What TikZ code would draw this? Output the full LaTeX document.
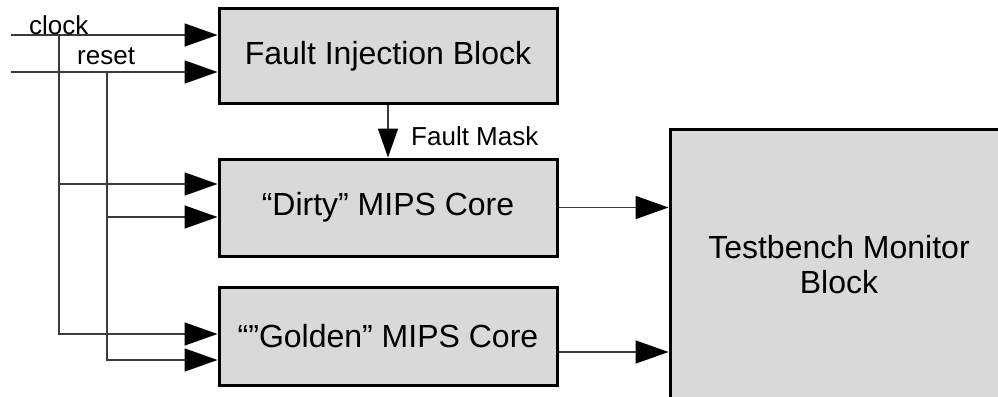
\documentclass[tikz,border=0pt]{standalone}
\usepackage{fontspec}
\setmainfont{Liberation Sans}
\usetikzlibrary{arrows.meta,calc}
\definecolor{boxgray}{HTML}{D9D9D9}
\definecolor{wiregray}{HTML}{3A3A3A}
\tikzset{
  blk/.style={draw=black, line width=3pt, fill=boxgray, rectangle, inner sep=0pt,
    font=\fontsize{32}{35}\selectfont, align=center},
  wire/.style={draw=wiregray, line width=1.6pt},
  sig/.style={wire, -{Triangle[length=33pt,width=23pt,black]}},
  sigv/.style={wire, -{Triangle[length=29pt,width=20pt,black]}},
  lbl/.style={inner sep=0pt, anchor=base west, font=\fontsize{26}{28}\selectfont}
}
\begin{document}
\begin{tikzpicture}[x=1pt,y=-1pt]
\useasboundingbox (0,0) rectangle (998,396);
\clip (0,0) rectangle (998,396);
% blocks
\node[blk, minimum width=338pt, minimum height=94pt] (fib) at (388,56) {Fault Injection Block};
\node[blk, minimum width=338pt, minimum height=97pt] (dirty) at (388,207.5) {“Dirty” MIPS Core};
\node[blk, minimum width=338pt, minimum height=98pt] (golden) at (388,336) {“”Golden” MIPS Core};
\node[blk, minimum width=338pt, minimum height=272pt] (tb) at (839,265) {Testbench Monitor\\Block};
% coordinates
\coordinate (clkin) at (11,35);
\coordinate (rstin) at (11,72);
\coordinate (clkj) at (59,35);
\coordinate (rstj) at (107,72);
\coordinate (fibclk) at ($(fib.west)+(0,-21)$);
\coordinate (fibrst) at ($(fib.west)+(0,16)$);
\coordinate (dclk) at ($(dirty.west)+(0,-23.5)$);
\coordinate (drst) at ($(dirty.west)+(0,9.5)$);
\coordinate (gclk) at ($(golden.west)+(0,-2)$);
\coordinate (grst) at ($(golden.west)+(0,24)$);
\coordinate (gout) at ($(golden.east)+(0,16)$);
% inputs
\draw[sig] (clkin) -- (fibclk);
\draw[sig] (rstin) -- (fibrst);
\draw[sig] (clkj) |- (dclk);
\draw[sig] (clkj) |- (gclk);
\draw[sig] (rstj) |- (drst);
\draw[sig] (rstj) |- (grst);
% fault mask
\draw[sigv] (fib.south) -- (dirty.north);
% outputs
\draw[sig] (dirty.east) -- (dirty.east -| tb.west);
\draw[sig] (gout) -- (gout -| tb.west);
% labels
\node[lbl] (lclk) at (29,35) {clock};
\node[lbl] (lrst) at (77,64) {reset};
\node[lbl] (lfm) at (411,145) {Fault Mask};
\end{tikzpicture}
\end{document}
